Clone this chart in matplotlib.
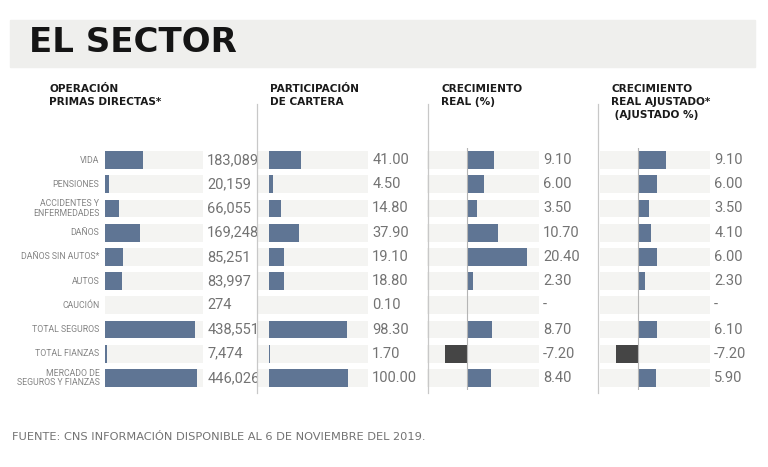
import matplotlib
matplotlib.use('Agg')
import matplotlib.pyplot as plt
from matplotlib.patches import Rectangle

categorias = ['VIDA', 'PENSIONES', 'ACCIDENTES Y\nENFERMEDADES', 'DAÑOS',
              'DAÑOS SIN AUTOS*', 'AUTOS', 'CAUCIÓN', 'TOTAL SEGUROS',
              'TOTAL FIANZAS', 'MERCADO DE\nSEGUROS Y FIANZAS']
primas = [183089, 20159, 66055, 169248, 85251, 83997, 274, 438551, 7474, 446026]
primas_txt = ['183,089', '20,159', '66,055', '169,248', '85,251', '83,997',
              '274', '438,551', '7,474', '446,026']
participacion = [41.00, 4.50, 14.80, 37.90, 19.10, 18.80, 0.10, 98.30, 1.70, 100.00]
crec_real = [9.10, 6.00, 3.50, 10.70, 20.40, 2.30, None, 8.70, -7.20, 8.40]
crec_ajust = [9.10, 6.00, 3.50, 4.10, 6.00, 2.30, None, 6.10, -7.20, 5.90]

encabezados = ['OPERACIÓN\nPRIMAS DIRECTAS*', 'PARTICIPACIÓN\nDE CARTERA',
               'CRECIMIENTO\nREAL (%)', 'CRECIMIENTO\nREAL AJUSTADO*\n (AJUSTADO %)']

AZUL = '#5f7594'
NEGRO = '#454545'
FONDO = '#f4f4f2'
GRIS_TXT = '#737373'
FINA = ['Roboto', 'DejaVu Sans']

W, H = 768, 467
fig = plt.figure(figsize=(W / 100, H / 100), dpi=100)
fig.patch.set_facecolor('white')


def px_axes(x0, x1, y0, y1):
    # pixel box (top-left origin) -> figure axes
    return fig.add_axes([x0 / W, 1 - y1 / H, (x1 - x0) / W, (y1 - y0) / H])


# title band
fig.patches.append(Rectangle((10 / W, 1 - 67 / H), 745 / W, 47 / H,
                             transform=fig.transFigure, color='#efefed', zorder=0))
fig.text(29 / W, 1 - 43 / H, 'EL SECTOR', fontsize=24.5, fontweight='bold',
         color='#151515', va='center', ha='left')

n = len(categorias)
row_top, row_bot = 148, 390


def fmt(v):
    return '-' if v is None else f'{v:.2f}'


# (x0 px, x1 px, xmin, xmax, values, labels)
paneles = [
    (105, 203, 0, 475000, primas, primas_txt),
    (257, 368, -15.2, 125.3, participacion, [f'{v:.2f}' for v in participacion]),
    (427, 539, -13.46, 24.5, crec_real, [fmt(v) for v in crec_real]),
    (600, 710, -12.56, 23.5, crec_ajust, [fmt(v) for v in crec_ajust]),
]

for k, (x0, x1, xmin, xmax, vals, txts) in enumerate(paneles):
    ax = px_axes(x0, x1, row_top, row_bot)
    ax.set_xlim(xmin, xmax)
    ax.set_ylim(n - 0.5, -0.5)
    ax.axis('off')
    ys = list(range(n))
    ax.barh(ys, [xmax - xmin] * n, left=xmin, height=0.73, color=FONDO, zorder=1)
    v = [0 if x is None else x for x in vals]
    cols = [NEGRO if x < 0 else AZUL for x in v]
    ax.barh(ys, v, height=0.73, color=cols, zorder=2)
    if k >= 2:
        ax.axvline(0, color='#b5b5b5', lw=0.8, zorder=3)
    for i, t in enumerate(txts):
        ax.annotate(t, xy=(1, i), xycoords=ax.get_yaxis_transform(),
                    xytext=(3, 0), textcoords='offset points', ha='left',
                    va='center', fontsize=10.5, color=GRIS_TXT, family=FINA)
    if k == 0:
        for i, c in enumerate(categorias):
            ax.annotate(c, xy=(0, i), xycoords=ax.get_yaxis_transform(),
                        xytext=(-4, 0), textcoords='offset points', ha='right',
                        va='center', fontsize=6.3, color='#858585',
                        family=FINA, linespacing=1.0)

# headers
for x, h in zip([49, 270, 441, 611], encabezados):
    fig.text(x / W, 1 - 84 / H, h, fontsize=7.6, fontweight='bold',
             color='#1a1a1a', va='top', ha='left', linespacing=1.35)

# separators
for x in [257, 428, 598]:
    fig.add_artist(plt.Line2D([x / W, x / W], [1 - 104 / H, 1 - 393 / H],
                              transform=fig.transFigure, color='#c8c8c8', lw=0.9))

fig.text(12 / W, 1 - 437 / H,
         'FUENTE: CNS INFORMACIÓN DISPONIBLE AL 6 DE NOVIEMBRE DEL 2019.',
         fontsize=8.2, color=GRIS_TXT, va='center', ha='left')

fig.savefig('out.png', dpi=100)
